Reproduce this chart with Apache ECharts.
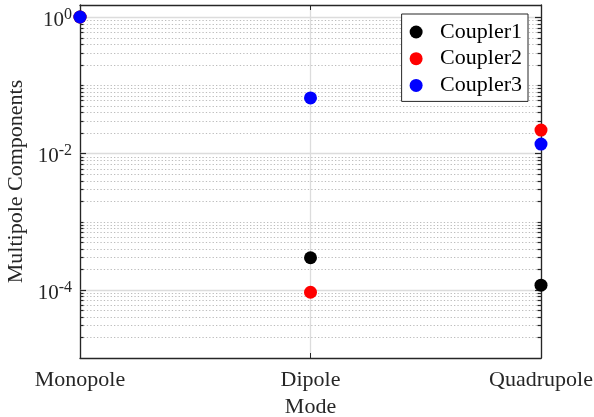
<!DOCTYPE html>
<html>
<head>
<meta charset="utf-8">
<script src="https://cdn.jsdelivr.net/npm/echarts@6/dist/echarts.min.js"></script>
<style>
  html, body { margin: 0; padding: 0; background: #fff; }
  #chart { width: 594px; height: 417px; }
</style>
</head>
<body>
<div id="chart"></div>
<script>
// Multipole components of each coupler, by mode
const modes = ['Monopole', 'Dipole', 'Quadrupole'];
const coupler1 = [1, 2.95e-4, 1.17e-4];
const coupler2 = [1, 9.2e-5, 2.2e-2];
const coupler3 = [1, 6.5e-2, 1.37e-2];
const labelledExponents = [0, -2, -4];

const yMin = 1e-5;
const yMax = 1.5;
const axisColor = '#262626';
const font = '"Liberation Serif", "Times New Roman", serif';

// Log grid positions: every mantissa 1..9 of each decade inside the axis range
const gridValues = [];
for (let e = -5; e <= 0; e++) {
  for (let m = 1; m <= 9; m++) {
    const v = m * Math.pow(10, e);
    if (v > yMin && v <= yMax) {
      const major = m === 1 && labelledExponents.indexOf(e) >= 0;
      gridValues.push([0, v, major ? 1 : 0]);
    }
  }
}

function decadeLabel(v) {
  const e = Math.log10(v);
  const r = Math.round(e);
  if (Math.abs(e - r) > 1e-6) return '';
  if (labelledExponents.indexOf(r) < 0) return '';
  return '{b|10}{s|' + r + '}';
}

const chart = echarts.init(document.getElementById('chart'), null, { renderer: 'canvas' });

const dot = (name, color, data) => ({
  name: name,
  type: 'scatter',
  data: data,
  symbol: 'circle',
  symbolSize: 13,
  clip: false,
  z: 5,
  itemStyle: { color: color, opacity: 1 },
  emphasis: { disabled: true }
});

chart.setOption({
  animation: false,
  backgroundColor: '#fff',
  textStyle: { fontFamily: font },
  grid: { left: 80, right: 53, top: 5, bottom: 59, containLabel: false, outerBoundsMode: 'none' },
  legend: {
    orient: 'vertical',
    right: 66,
    top: 14,
    padding: [7, 6, 5, 8],
    itemGap: 4.7,
    itemWidth: 38,
    itemHeight: 13,
    backgroundColor: '#fff',
    borderColor: axisColor,
    borderWidth: 1,
    borderRadius: 0,
    data: [
      { name: 'Coupler1', icon: 'circle' },
      { name: 'Coupler2', icon: 'circle' },
      { name: 'Coupler3', icon: 'circle' }
    ],
    textStyle: { fontFamily: font, fontSize: 22, lineHeight: 22, color: '#000', padding: [0, 0, 0, 0] },
    selectedMode: false
  },
  xAxis: [
    {
      type: 'category',
      data: modes,
      boundaryGap: false,
      position: 'bottom',
      name: 'Mode',
      nameLocation: 'middle',
      nameGap: 37,
      nameTextStyle: { fontFamily: font, fontSize: 22, color: axisColor },
      axisLine: { show: true, lineStyle: { color: axisColor, width: 1.3 } },
      axisTick: { show: true, inside: true, length: 5, lineStyle: { color: axisColor } },
      axisLabel: { fontFamily: font, fontSize: 22, color: axisColor, margin: 11 },
      splitLine: { show: true, lineStyle: { color: '#dcdcdc', width: 1.3 } }
    },
    {
      type: 'category',
      data: modes,
      boundaryGap: false,
      position: 'top',
      axisLine: { show: true, lineStyle: { color: axisColor, width: 1.3 } },
      axisTick: { show: true, inside: true, length: 5, lineStyle: { color: axisColor } },
      axisLabel: { show: false },
      splitLine: { show: false }
    }
  ],
  yAxis: [
    {
      type: 'log',
      logBase: 10,
      min: yMin,
      max: yMax,
      interval: 1,
      position: 'left',
      name: 'Multipole Components',
      nameLocation: 'middle',
      nameGap: 49,
      nameTextStyle: { fontFamily: font, fontSize: 22, color: axisColor },
      axisLine: { show: true, lineStyle: { color: axisColor, width: 1.3 } },
      axisTick: { show: false },
      splitLine: { show: false },
      axisLabel: {
        margin: 8,
        formatter: decadeLabel,
        rich: {
          b: { fontFamily: font, fontSize: 21, lineHeight: 21, padding: [7, 0, 0, 0], color: axisColor },
          s: { fontFamily: font, fontSize: 16, lineHeight: 16, verticalAlign: 'top', color: axisColor }
        }
      }
    },
    {
      type: 'log',
      logBase: 10,
      min: yMin,
      max: yMax,
      interval: 1,
      position: 'right',
      axisLine: { show: true, lineStyle: { color: axisColor, width: 1.3 } },
      axisTick: { show: false },
      axisLabel: { show: false },
      splitLine: { show: false }
    }
  ],
  series: [
    {
      // log-scale grid lines and inward ticks on both vertical axes
      type: 'custom',
      name: 'grid',
      silent: true,
      z: 1,
      xAxisIndex: 0,
      yAxisIndex: 0,
      encode: { x: 0, y: 1 },
      data: gridValues,
      renderItem: function (params, api) {
        const cs = params.coordSys;
        const y = Math.round(api.coord([0, api.value(1)])[1]) + 0.5;
        const major = api.value(2) === 1;
        const tick = major ? 6 : 3.5;
        const left = cs.x, right = cs.x + cs.width;
        return {
          type: 'group',
          children: [
            {
              type: 'line',
              shape: { x1: left, y1: y, x2: right, y2: y },
              style: major
                ? { stroke: '#dcdcdc', lineWidth: 1.3 }
                : { stroke: '#bdbdbd', lineWidth: 1.2, lineDash: [1.3, 2.1] }
            },
            {
              type: 'line',
              shape: { x1: left, y1: y, x2: left + tick, y2: y },
              style: { stroke: axisColor, lineWidth: 1.2 }
            },
            {
              type: 'line',
              shape: { x1: right - tick, y1: y, x2: right, y2: y },
              style: { stroke: axisColor, lineWidth: 1.2 }
            }
          ]
        };
      }
    },
    dot('Coupler1', '#000000', coupler1),
    dot('Coupler2', '#ff0000', coupler2),
    dot('Coupler3', '#0000ff', coupler3)
  ]
});
</script>
</body>
</html>
